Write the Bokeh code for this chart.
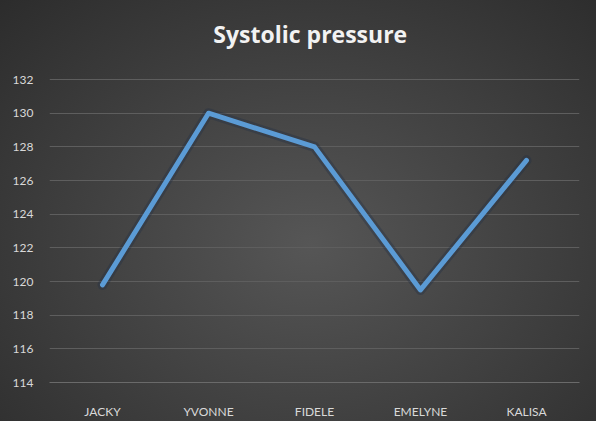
from bokeh.plotting import figure
from bokeh.models import FactorRange, Range1d, FixedTicker, Label
from bokeh.embed import file_html
from bokeh.resources import INLINE

title_text = "Systolic pressure"
names = ["JACKY", "YVONNE", "FIDELE", "EMELYNE", "KALISA"]
systolic = [119.8, 130.0, 128.0, 119.5, 127.2]
y_ticks = [114, 116, 118, 120, 122, 124, 126, 128, 130, 132]

p = figure(
    x_range=FactorRange(*names),
    y_range=Range1d(114, 136.4),
    width=596, height=421,
    output_backend="svg", toolbar_location=None,
    min_border_left=49, min_border_right=17,
    min_border_top=5, min_border_bottom=39,
    outline_line_color=None,
)
p.background_fill_color = None
p.border_fill_color = None
p.styles = {
    "background": "radial-gradient(ellipse at 52% 58%, #565656 0%, #434343 45%, #2c2c2c 100%)"
}

title = Label(x=2.46, y=134.73, text=title_text,
              text_align="center", text_baseline="middle",
              text_color="#f2f2f2", text_font="Open Sans",
              text_font_size="23px", text_font_style="bold")
p.add_layout(title)

p.line(x=names, y=systolic, line_color="#1f2f44", line_width=10,
       line_alpha=0.35, line_join="round", line_cap="round")
p.line(x=names, y=systolic, line_color="#5b9bd5", line_width=5,
       line_join="round", line_cap="round")

ticker = FixedTicker(ticks=y_ticks)
p.yaxis.ticker = ticker
p.ygrid.ticker = ticker
p.yaxis.axis_line_color = None
p.yaxis.major_tick_line_color = None
p.yaxis.minor_tick_line_color = None
p.yaxis.major_label_standoff = 10
p.xaxis.axis_line_color = "#6a6a6a"
p.xaxis.major_tick_line_color = None
p.xaxis.major_label_standoff = 15
for ax in (p.xaxis, p.yaxis):
    ax.major_label_text_color = "#d9d9d9"
    ax.major_label_text_font = "Lato"
    ax.major_label_text_font_size = "12px"

p.xgrid.grid_line_color = None
p.ygrid.grid_line_color = "#5e5e5e"
p.ygrid.grid_line_width = 1

open("out.html", "w").write(file_html(p, INLINE))
